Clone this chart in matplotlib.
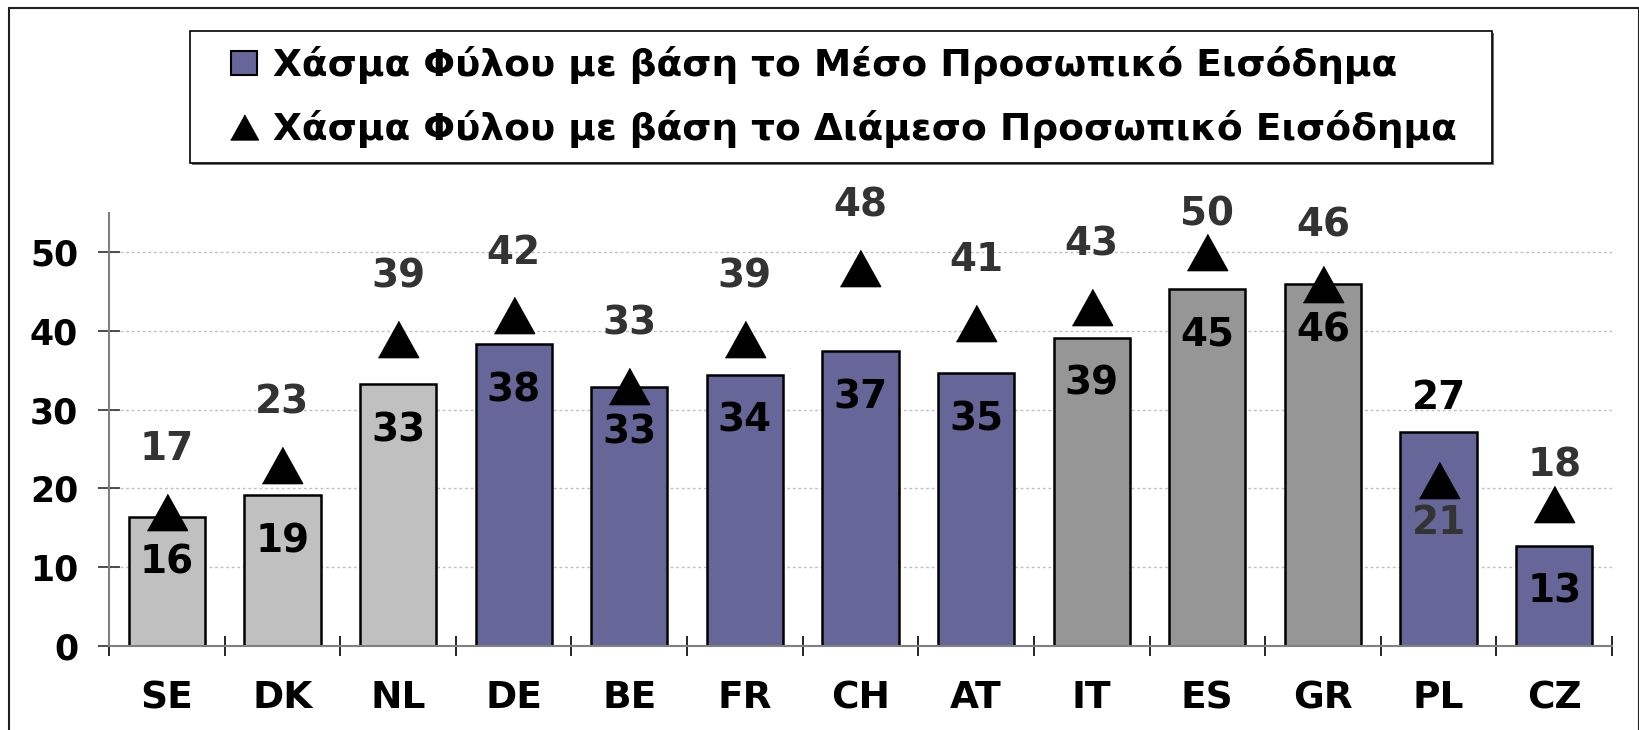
import numpy as np
import matplotlib
matplotlib.use("Agg")
import matplotlib.pyplot as plt
from matplotlib.patches import Rectangle, Patch
from matplotlib.lines import Line2D

plt.rcParams['font.family'] = ['DejaVu Sans']
plt.rcParams['font.weight'] = 'bold'

# data
countries = ['SE', 'DK', 'NL', 'DE', 'BE', 'FR', 'CH', 'AT', 'IT', 'ES', 'GR', 'PL', 'CZ']
mean_gap = [16.4, 19.1, 33.2, 38.3, 32.9, 34.4, 37.4, 34.6, 39.1, 45.3, 45.9, 27.1, 12.7]
median_gap = [17, 23, 39, 42, 33, 39, 48, 41, 43, 50, 46, 21, 18]
bar_colors = ['#C0C0C0'] * 3 + ['#666699'] * 5 + ['#969696'] * 3 + ['#666699'] * 2
label_mean = 'Χάσμα Φύλου με βάση το Μέσο Προσωπικό Εισόδημα'
label_median = 'Χάσμα Φύλου με βάση το Διάμεσο Προσωπικό Εισόδημα'

W, H = 1640, 730
fig = plt.figure(figsize=(W / 100, H / 100), dpi=100)
ax = fig.add_axes([109 / W, 1 - 645.7 / H, 1503 / W, 432.9 / H])

x = np.arange(len(countries))
ax.bar(x, mean_gap, width=0.66, color=bar_colors, edgecolor='black', linewidth=1.8, zorder=2)

tri = [(-0.5, -0.45), (0.5, -0.45), (0.0, 0.45)]
ax.plot(x, median_gap, linestyle='none', marker=tri, markersize=29,
        color='black', zorder=3)

# value labels
for i, c in enumerate(countries):
    if c == 'PL':
        ax.annotate(f'{mean_gap[i]:.0f}', (x[i], mean_gap[i]), xytext=(0, 25),
                    textcoords='offset points', ha='center', va='center',
                    fontsize=28, color='black', zorder=4)
        ax.annotate(f'{median_gap[i]:.0f}', (x[i], median_gap[i]), xytext=(0, -31),
                    textcoords='offset points', ha='center', va='center',
                    fontsize=28, color='#333333', zorder=4)
        continue
    up = {'CZ': 28, 'ES': 27, 'GR': 42}.get(c, 45)
    ax.annotate(f'{median_gap[i]:.0f}', (x[i], median_gap[i]), xytext=(0, up),
                textcoords='offset points', ha='center', va='center',
                fontsize=28, color='#333333', zorder=4)
    ax.annotate(f'{mean_gap[i]:.0f}', (x[i], mean_gap[i]), xytext=(0, -33),
                textcoords='offset points', ha='center', va='center',
                fontsize=28, color='black', zorder=4)

ax.set_xlim(-0.5, len(countries) - 0.5)
ax.set_ylim(0, 55)
ax.set_yticks(range(0, 51, 10))
ax.set_xticks(x)
ax.set_xticklabels(countries)
ax.set_xticks(np.arange(-0.5, len(countries)), minor=True)
ax.tick_params(axis='x', which='major', length=0, pad=25, labelsize=27)
ax.tick_params(axis='x', which='minor', direction='inout', length=15, width=1.2, color='black')
ax.tick_params(axis='y', direction='inout', length=16.5, width=1.2, color='#303030',
               pad=14, labelsize=25)
for s in ['top', 'right']:
    ax.spines[s].set_visible(False)
for s in ['left', 'bottom']:
    ax.spines[s].set_color('#808080')
    ax.spines[s].set_linewidth(1.5)
ax.yaxis.grid(True, color='#C0C0C0', linestyle=(0, (2, 2)), linewidth=1.0, zorder=0)
ax.set_axisbelow(True)

# outer frame
fig.patches.append(Rectangle((9 / W, -0.02), 1630 / W, 1.02 - 8 / H, transform=fig.transFigure,
                             fill=False, edgecolor='#202020', linewidth=1.5))

# legend box
fig.patches.append(Rectangle((192 / W, 1 - 165 / H), 1302 / W, 132 / H, transform=fig.transFigure,
                             facecolor='#707070', edgecolor='none', zorder=1))
fig.patches.append(Rectangle((190 / W, 1 - 163 / H), 1302 / W, 132 / H, transform=fig.transFigure,
                             facecolor='white', edgecolor='black', linewidth=1.2, zorder=2))
handles = [Patch(facecolor='#666699', edgecolor='black', linewidth=1.5),
           Line2D([], [], linestyle='none', marker=tri, markersize=20, color='black')]
leg = fig.legend(handles, [label_mean, label_median], loc='upper left',
                 bbox_to_anchor=(231 / W, 1 - 46 / H), bbox_transform=fig.transFigure,
                 frameon=False, borderpad=0, borderaxespad=0, fontsize=27,
                 handlelength=0.70, handleheight=0.59, handletextpad=0.43, labelspacing=0.68)
leg.set_zorder(3)

fig.savefig('out.png', dpi=100)
